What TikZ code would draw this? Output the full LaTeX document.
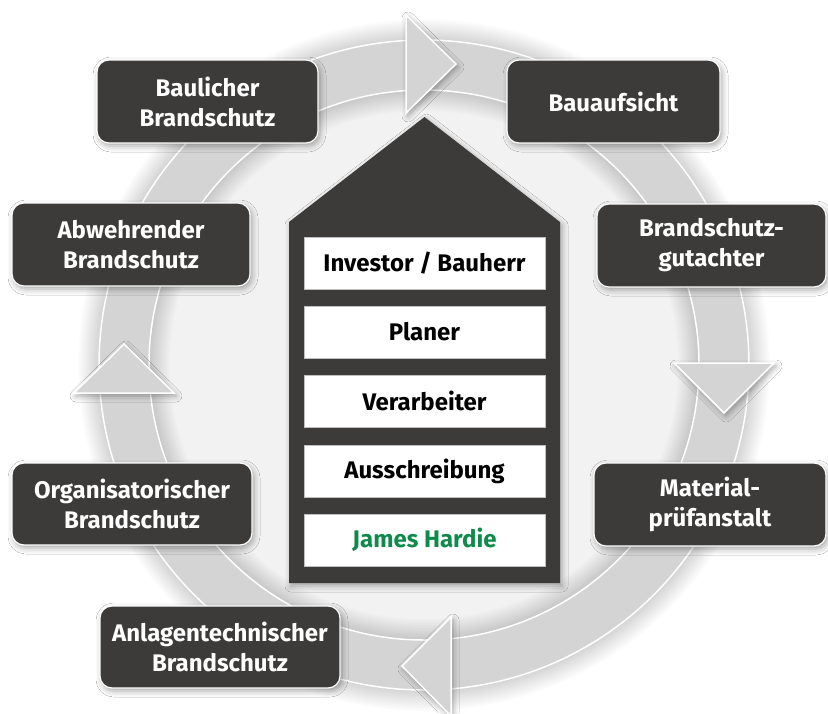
\documentclass[tikz,border=0pt]{standalone}
\usepackage{fontspec}
\setmainfont{Fira Sans}
\usetikzlibrary{shadows.blur}
\definecolor{boxdark}{HTML}{3C3B39}
\definecolor{ringgray}{HTML}{D4D4D4}
\definecolor{hardiegreen}{HTML}{0F8A4A}
\begin{document}
\begin{tikzpicture}[x=1pt,y=-1pt,
  softshadow/.style={blur shadow={shadow xshift=2pt, shadow yshift=-3pt,
      shadow blur radius=6pt, shadow opacity=35}},
  outerbox/.style={draw=white, line width=1.2pt, fill=boxdark,
      rounded corners=12pt, text=white, align=center, inner sep=0pt,
      font=\bfseries\fontsize{24}{30}\selectfont, softshadow},
  innerbox/.style={fill=white, draw=black!25, line width=0.5pt,
      minimum width=241pt, minimum height=52pt, inner sep=0pt,
      font=\bfseries\fontsize{24}{28}\selectfont},
  pointer/.style={fill=ringgray, draw=white, line width=1.5pt,
      line join=miter, softshadow}
]
% canvas
\fill[white] (0,0) rectangle (828,713);
\useasboundingbox (0,0) rectangle (828,713);
\coordinate (ctr) at (424,365);

% soft background disc and ring shadow
\fill[black!5] (ctr) circle[radius=290];
\foreach \i in {1,...,14}
  \draw[black, opacity=0.012, line width={(50+3*\i)*1pt}] (ctr) circle[radius=300];

% the cycle ring
\fill[ringgray, even odd rule] (ctr) circle[radius=325] (ctr) circle[radius=275];
\draw[white, line width=1.5pt] (ctr) circle[radius=325];
\draw[white, line width=1.5pt] (ctr) circle[radius=275];

% direction pointers on the ring
\filldraw[pointer] (406,15) -- (406,113) -- (456,64) -- cycle;
\filldraw[pointer] (674,363) -- (774,363) -- (724,413) -- cycle;
\filldraw[pointer] (451,617) -- (451,716) -- (402,666) -- cycle;
\filldraw[pointer] (74,393) -- (174,393) -- (124,344) -- cycle;

% house with the project parties
\fill[boxdark, softshadow] (289,583) -- (289,222) -- (424.5,117) -- (560,222) -- (560,583) -- cycle;
\node[innerbox] (investor) at (424.5,263) {Investor / Bauherr};
\node[innerbox] (planer) at (424.5,332) {Planer};
\node[innerbox] (verarb) at (424.5,401) {Verarbeiter};
\node[innerbox] (aussch) at (424.5,471) {Ausschreibung};
\node[innerbox, text=hardiegreen] (hardie) at (424.5,540) {James Hardie};

% fire protection fields around the ring
\node[outerbox, minimum width=221pt, minimum height=83pt] (baulich) at (207.5,101.5) {Baulicher\\Brandschutz};
\node[outerbox, minimum width=213pt, minimum height=83pt] (aufsicht) at (613.5,101.5) {Bauaufsicht};
\node[outerbox, minimum width=238pt, minimum height=83pt] (abwehr) at (131,244.5) {Abwehrender\\Brandschutz};
\node[outerbox, minimum width=229pt, minimum height=83pt] (gutachter) at (711.5,245.5) {Brandschutz-\\gutachter};
\node[outerbox, minimum width=240pt, minimum height=82pt] (organisat) at (132,504) {Organisatorischer\\Brandschutz};
\node[outerbox, minimum width=232pt, minimum height=83pt] (material) at (710,504.5) {Material-\\prüfanstalt};
\node[outerbox, minimum width=240pt, minimum height=82pt] (anlagen) at (220,647) {Anlagentechnischer\\Brandschutz};
\end{tikzpicture}
\end{document}
